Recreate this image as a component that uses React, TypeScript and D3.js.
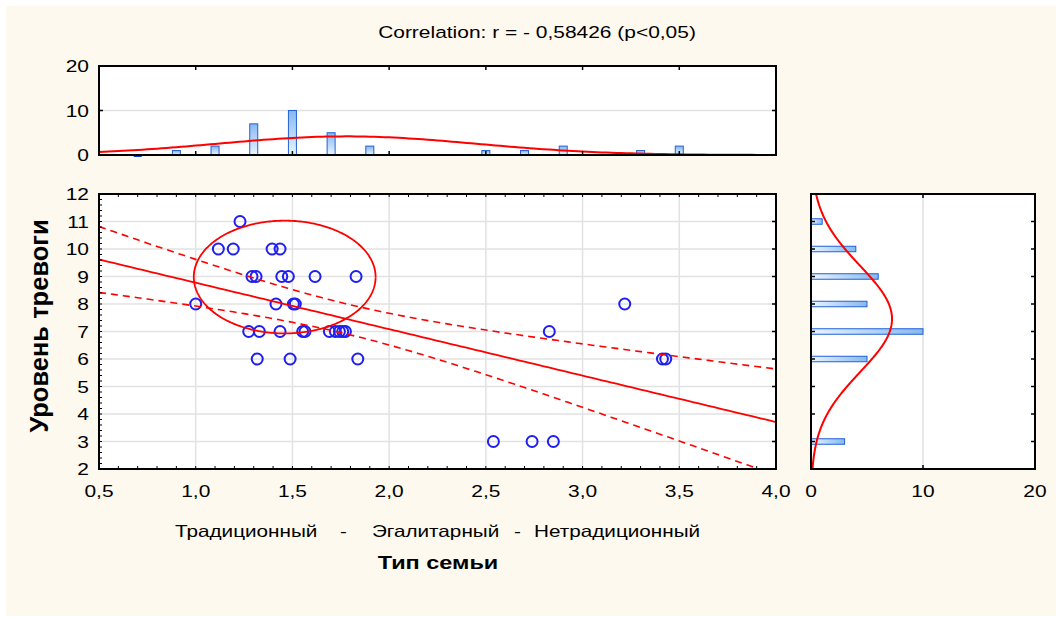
import React from 'react';
import * as d3 from 'd3';

// scatter points: family type (x) vs anxiety level (y)
const familyType = [
  1.229,
  1.117, 1.194, 1.395, 1.436,
  1.291, 1.312, 1.445, 1.479, 1.617, 1.829,
  1.0, 1.415, 1.505, 1.515, 3.218,
  1.274, 1.329, 1.436, 1.553, 1.565, 1.691, 1.722, 1.743, 1.76, 1.774, 2.828,
  1.318, 1.488, 1.838, 3.413, 3.43,
  2.539, 2.739, 2.849,
];
const anxiety = [
  11,
  10, 10, 10, 10,
  9, 9, 9, 9, 9, 9,
  8, 8, 8, 8, 8,
  7, 7, 7, 7, 7, 7, 7, 7, 7, 7, 7,
  6, 6, 6, 6, 6,
  3, 3, 3,
];

// marginal histograms
const topBinCenters = [0.7, 0.9, 1.1, 1.3, 1.5, 1.7, 1.9, 2.5, 2.7, 2.9, 3.3, 3.5];
const topBinCounts = [0, 1, 2, 7, 10, 5, 2, 1, 1, 2, 1, 2];
const sideBinCenters = [11, 10, 9, 8, 7, 6, 3];
const sideBinCounts = [1, 4, 6, 5, 10, 5, 3];

// ellipse drawn around the main cluster (data units)
const ellipseCenter = [1.46, 8.98];
const ellipseRadius = [0.47, 2.05];

const xTicks = [0.5, 1.0, 1.5, 2.0, 2.5, 3.0, 3.5, 4.0];
const yTicks = [2, 3, 4, 5, 6, 7, 8, 9, 10, 11, 12];
const countTicks = [0, 10, 20];

const title = 'Correlation: r = - 0,58426 (p<0,05)';
const yTitle = 'Уровень тревоги';
const xTitle = 'Тип семьи';
const xCategories = ['Традиционный', '-', 'Эгалитарный', '-', 'Нетрадиционный'];
const xCategoryPos = [175, 340, 372, 514, 534];

const tCrit = 2.0345; // t(0.975, df=33)

const font = '"Liberation Sans", Arial, sans-serif';
const stretch = 1.27; // text in the source is drawn wide
const comma = (v: number) => d3.format('.1f')(v).replace('.', ',');

type TxtProps = { x: number; y: number; size: number; anchor?: string; bold?: boolean; children: React.ReactNode };
const Txt = ({ x, y, size, anchor = 'start', bold = false, children }: TxtProps) => (
  <text
    transform={`translate(${x},${y}) scale(${stretch},1)`}
    textAnchor={anchor}
    fontSize={size}
    fontWeight={bold ? 'bold' : 'normal'}
  >
    {children}
  </text>
);

export default function App() {
  const W = 1056, H = 617;
  const M = { left: 99, right: 776, top: 194, bottom: 469 };
  const T = { top: 66, bottom: 155 };
  const S = { left: 811, right: 1035 };

  const x = d3.scaleLinear().domain([0.5, 4]).range([M.left, M.right]);
  const y = d3.scaleLinear().domain([2, 12]).range([M.bottom, M.top]);
  const yTop = d3.scaleLinear().domain([0, 20]).range([T.bottom, T.top]);
  const xSide = d3.scaleLinear().domain([0, 20]).range([S.left, S.right]);

  // stats
  const n = familyType.length;
  const mx = d3.mean(familyType)!;
  const my = d3.mean(anxiety)!;
  const sxx = d3.sum(familyType, v => (v - mx) ** 2);
  const syy = d3.sum(anxiety, v => (v - my) ** 2);
  const sxy = d3.sum(familyType, (v, i) => (v - mx) * (anxiety[i] - my));
  const slope = sxy / sxx;
  const icpt = my - slope * mx;
  const se = Math.sqrt((syy - (sxy * sxy) / sxx) / (n - 2));
  const band = (v: number) => tCrit * se * Math.sqrt(1 / n + (v - mx) ** 2 / sxx);
  const sdx = Math.sqrt(sxx / (n - 1));
  const sdy = Math.sqrt(syy / (n - 1));
  const pdf = (v: number, m: number, s: number) =>
    Math.exp(-0.5 * ((v - m) / s) ** 2) / (s * Math.sqrt(2 * Math.PI));

  const xs = d3.range(0.5, 4.0001, 0.025);
  const lineXY = d3.line<number[]>().x(d => x(d[0])).y(d => y(d[1]));
  const fitPath = lineXY(xs.map(v => [v, icpt + slope * v]))!;
  const upPath = lineXY(xs.map(v => [v, icpt + slope * v + band(v)]))!;
  const loPath = lineXY(xs.map(v => [v, icpt + slope * v - band(v)]))!;

  const topCurve = d3.line<number>().x(v => x(v)).y(v => yTop(n * 0.2 * pdf(v, mx, sdx)))(xs)!;
  const ysRange = d3.range(2, 12.0001, 0.05);
  const sideCurve = d3.line<number>().x(v => xSide(n * 1 * pdf(v, my, sdy))).y(v => y(v))(ysRange)!;

  const ell = d3.range(0, 2 * Math.PI + 0.01, 0.02).map(a => [
    ellipseCenter[0] + ellipseRadius[0] * Math.cos(a),
    ellipseCenter[1] + ellipseRadius[1] * Math.sin(a),
  ]);
  const ellPath = lineXY(ell)!;

  const grid = '#e2e2e2';
  const red = '#ff0000';
  const blue = '#1f1ff2';
  const barStroke = '#2160d8';

  const minorX = d3.range(0.6, 3.95, 0.1);
  const minorY = d3.range(2.2, 11.9, 0.2);
  const halfX = d3.range(1, 3.75, 0.5);

  return (
    <svg width={W} height={H} style={{ position: 'absolute', left: 0, top: 0 }} fontFamily={font}>
      <defs>
        <linearGradient id="gTop" x1="0" y1="0" x2="0" y2="1">
          <stop offset="0" stopColor="#86b8f0" />
          <stop offset="1" stopColor="#eaf4ff" />
        </linearGradient>
        <linearGradient id="gSide" x1="0" y1="0" x2="1" y2="0">
          <stop offset="0" stopColor="#eaf4ff" />
          <stop offset="1" stopColor="#86b8f0" />
        </linearGradient>
        <clipPath id="clipMain">
          <rect x={M.left} y={M.top} width={M.right - M.left} height={M.bottom - M.top} />
        </clipPath>
        <clipPath id="clipTop">
          <rect x={M.left} y={T.top} width={M.right - M.left} height={T.bottom - T.top} />
        </clipPath>
        <clipPath id="clipSide">
          <rect x={S.left} y={M.top} width={S.right - S.left} height={M.bottom - M.top} />
        </clipPath>
      </defs>
      <rect x={0} y={0} width={W} height={H} fill="#ffffff" />
      <rect x={6} y={6} width={W - 6} height={H - 7} fill="#fef9ee" />

      <Txt x={537} y={38} size={16.5} anchor="middle">{title}</Txt>

      {/* top histogram */}
      <rect x={M.left} y={T.top} width={M.right - M.left} height={T.bottom - T.top} fill="#fff" />
      <line x1={M.left} x2={M.right} y1={yTop(10)} y2={yTop(10)} stroke={grid} strokeWidth={1.5} />
      <g clipPath="url(#clipTop)">
        {topBinCenters.map((c, i) => topBinCounts[i] > 0 ? (
          <rect key={i} x={x(c) - 4} y={yTop(topBinCounts[i])} width={8}
            height={yTop(0) - yTop(topBinCounts[i])} fill="url(#gTop)" stroke={barStroke} strokeWidth={1} />
        ) : null)}
        <path d={topCurve} fill="none" stroke={red} strokeWidth={2} />
      </g>
      {topBinCenters.map((c, i) => topBinCounts[i] === 0 ? (
        <rect key={'z' + i} x={x(c) - 4} y={T.bottom} width={8} height={2} fill="#1040c0" />
      ) : null)}
      {halfX.map(v => (
        <g key={'tt' + v}>
          <line x1={x(v)} x2={x(v)} y1={T.top} y2={T.top + 4} stroke="#000" strokeWidth={1.5} />
          <line x1={x(v)} x2={x(v)} y1={T.bottom} y2={T.bottom - 4} stroke="#000" strokeWidth={1.5} />
        </g>
      ))}
      <line x1={M.left} x2={M.left + 4} y1={yTop(10)} y2={yTop(10)} stroke="#000" strokeWidth={1.5} />
      <line x1={M.right} x2={M.right - 4} y1={yTop(10)} y2={yTop(10)} stroke="#000" strokeWidth={1.5} />
      <rect x={M.left} y={T.top} width={M.right - M.left} height={T.bottom - T.top} fill="none" stroke="#000" strokeWidth={2} />
      {countTicks.map(t => (
        <Txt key={'ct' + t} x={89} y={yTop(t) + 6} size={16.5} anchor="end">{t}</Txt>
      ))}

      {/* main scatter */}
      <rect x={M.left} y={M.top} width={M.right - M.left} height={M.bottom - M.top} fill="#fff" />
      {halfX.map(v => (
        <line key={'gx' + v} x1={x(v)} x2={x(v)} y1={M.top} y2={M.bottom} stroke={grid} strokeWidth={1.5} />
      ))}
      {yTicks.slice(1, -1).map(v => (
        <line key={'gy' + v} x1={M.left} x2={M.right} y1={y(v)} y2={y(v)} stroke={grid} strokeWidth={1.5} />
      ))}
      <g clipPath="url(#clipMain)">
        {familyType.map((v, i) => (
          <circle key={i} cx={x(v)} cy={y(anxiety[i])} r={5.5} fill="none" stroke={blue} strokeWidth={2} />
        ))}
        <path d={upPath} fill="none" stroke={red} strokeWidth={1.6} strokeDasharray="7,5" />
        <path d={loPath} fill="none" stroke={red} strokeWidth={1.6} strokeDasharray="7,5" />
        <path d={fitPath} fill="none" stroke={red} strokeWidth={1.8} />
        <path d={ellPath} fill="none" stroke={red} strokeWidth={1.8} />
      </g>
      {minorX.map(v => (
        <g key={'mx' + v}>
          <line x1={x(v)} x2={x(v)} y1={M.top} y2={M.top + 3} stroke="#000" strokeWidth={1} />
          <line x1={x(v)} x2={x(v)} y1={M.bottom} y2={M.bottom - 3} stroke="#000" strokeWidth={1} />
        </g>
      ))}
      {minorY.map(v => (
        <line key={'my' + v} x1={M.left} x2={M.left + 3} y1={y(v)} y2={y(v)} stroke="#000" strokeWidth={1} />
      ))}
      {yTicks.map(v => (
        <line key={'ry' + v} x1={M.right} x2={M.right - 4} y1={y(v)} y2={y(v)} stroke="#000" strokeWidth={1.5} />
      ))}
      <rect x={M.left} y={M.top} width={M.right - M.left} height={M.bottom - M.top} fill="none" stroke="#000" strokeWidth={2} />
      {yTicks.map(v => (
        <Txt key={'yl' + v} x={89} y={y(v) + 6} size={16.5} anchor="end">{v}</Txt>
      ))}
      {xTicks.map(v => (
        <Txt key={'xl' + v} x={x(v)} y={497} size={16.5} anchor="middle">{comma(v)}</Txt>
      ))}

      {/* side histogram */}
      <rect x={S.left} y={M.top} width={S.right - S.left} height={M.bottom - M.top} fill="#fff" />
      <line x1={xSide(10)} x2={xSide(10)} y1={M.top} y2={M.bottom} stroke={grid} strokeWidth={1.5} />
      <g clipPath="url(#clipSide)">
        {sideBinCenters.map((c, i) => (
          <rect key={i} x={xSide(0)} y={y(c) - 2.75} width={xSide(sideBinCounts[i]) - xSide(0)} height={5.5}
            fill="url(#gSide)" stroke={barStroke} strokeWidth={1} />
        ))}
        <path d={sideCurve} fill="none" stroke={red} strokeWidth={2} />
      </g>
      {yTicks.map(v => (
        <g key={'sy' + v}>
          <line x1={S.left} x2={S.left + 4} y1={y(v)} y2={y(v)} stroke="#000" strokeWidth={1.5} />
          <line x1={S.right} x2={S.right - 4} y1={y(v)} y2={y(v)} stroke="#000" strokeWidth={1.5} />
        </g>
      ))}
      <line x1={xSide(10)} x2={xSide(10)} y1={M.top} y2={M.top + 4} stroke="#000" strokeWidth={1.5} />
      <line x1={xSide(10)} x2={xSide(10)} y1={M.bottom} y2={M.bottom - 4} stroke="#000" strokeWidth={1.5} />
      <rect x={S.left} y={M.top} width={S.right - S.left} height={M.bottom - M.top} fill="none" stroke="#000" strokeWidth={2} />
      {countTicks.map(t => (
        <Txt key={'sx' + t} x={xSide(t)} y={497} size={16.5} anchor="middle">{t}</Txt>
      ))}

      {/* axis titles */}
      {xCategories.map((c, i) => (
        <Txt key={'cat' + i} x={xCategoryPos[i]} y={537} size={16.3}>{c}</Txt>
      ))}
      <Txt x={438} y={569} size={18.5} anchor="middle" bold>{xTitle}</Txt>
      <text transform="translate(48,326) rotate(-90)" textAnchor="middle" fontSize={25.5} fontWeight="bold">
        {yTitle}
      </text>
    </svg>
  );
}
